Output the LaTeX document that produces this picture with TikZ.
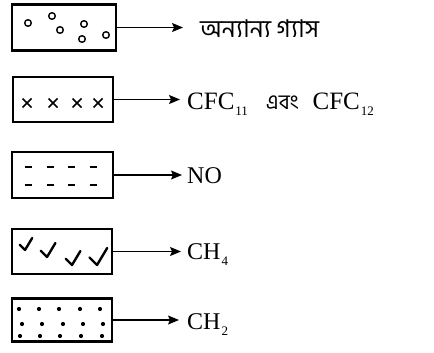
\documentclass[tikz,border=0pt]{standalone}
\usepackage{fontspec}
\setmainfont{Liberation Serif}
\newfontfamily\bnfont[Script=Bengali]{Hind Siliguri}
\usetikzlibrary{arrows.meta}
\newcommand{\gsub}[1]{\kern1pt\raisebox{-6pt}{\fontsize{13}{13}\selectfont #1}}
\tikzset{
  gasbox/.style={draw,line width=2.2pt,inner sep=0pt},
  gaslabel/.style={anchor=base west,inner sep=0pt,font=\fontsize{24}{24}\selectfont},
  gasarrow/.style={line width=1.3pt,-{Stealth[length=11pt,width=9pt,inset=2pt]}},
}
\begin{document}
\begin{tikzpicture}[x=1pt,y=-1pt]
\useasboundingbox (0,0) rectangle (434,353);
% boxes
\node[gasbox,minimum width=104pt,minimum height=46pt] (box1) at (64,27.5) {};
\node[gasbox,minimum width=100pt,minimum height=45pt] (box2) at (63,99.5) {};
\node[gasbox,minimum width=101pt,minimum height=46pt] (box3) at (62.5,175) {};
\node[gasbox,minimum width=100pt,minimum height=45pt] (box4) at (62,251.5) {};
\node[gasbox,minimum width=100pt,minimum height=43pt] (box5) at (62,320) {};
% labels
\node[gaslabel,font=\bnfont\fontsize{24.5}{24}\selectfont] (lbl1) at (200,38) {অন্যান্য গ্যাস};
\node[gaslabel,font=\fontsize{25}{25}\selectfont] (lbl2) at (187,110) {CFC\gsub{11}\hspace{18pt}{\bnfont\fontsize{21}{21}\selectfont এবং}\hspace{14pt}CFC\gsub{12}};
\node[gaslabel] (lbl3) at (187,183) {NO};
\node[gaslabel] (lbl4) at (187,259) {CH\gsub{4}};
\node[gaslabel] (lbl5) at (187,329) {CH\gsub{2}};
% arrows
\draw[gasarrow,shorten >=17pt] (box1.east) -- (box1.east -| lbl1.west);
\draw[gasarrow,shorten >=7pt] (box2.east) -- (box2.east -| lbl2.west);
\draw[gasarrow,shorten >=5pt] (box3.east) -- (box3.east -| lbl3.west);
\draw[gasarrow,shorten >=6pt] (box4.east) -- (box4.east -| lbl4.west);
\draw[gasarrow,shorten >=8pt] (box5.east) -- (box5.east -| lbl5.west);
% box 1: bubbles
\foreach \px/\py in {28/23,52/16,60/30,84/24,82/39,106/35}
  \draw[line width=1.4pt] (\px,\py) circle[radius=3.3];
% box 2: crosses
\foreach \px in {27,53,77,98}
  \draw[line width=1.6pt] (\px-4.5,98.5) -- (\px+4.5,107.5) (\px-4.5,107.5) -- (\px+4.5,98.5);
% box 3: dashes
\foreach \px in {28,50,71,93}
  \foreach \py in {167,185}
    \draw[line width=2pt] (\px-3.5,\py) -- (\px+3.5,\py);
% box 4: ticks
\foreach \bx/\by/\s in {25/250/12,47/257/14,72/265/14,97/265/17}
  \draw[line width=2.4pt,line join=round,line cap=round] (\bx-0.45*\s,\by-0.45*\s) -- (\bx,\by) -- (\bx+0.6*\s,\by-\s);
% box 5: dots
\foreach \px in {19,39,59,80,100} \fill (\px,309) circle[radius=2.1];
\foreach \px in {22,42,63,83,103} \fill (\px,324) circle[radius=2.1];
\foreach \px in {20,40,60,81,102} \fill (\px,336) circle[radius=2.1];
\end{tikzpicture}
\end{document}
